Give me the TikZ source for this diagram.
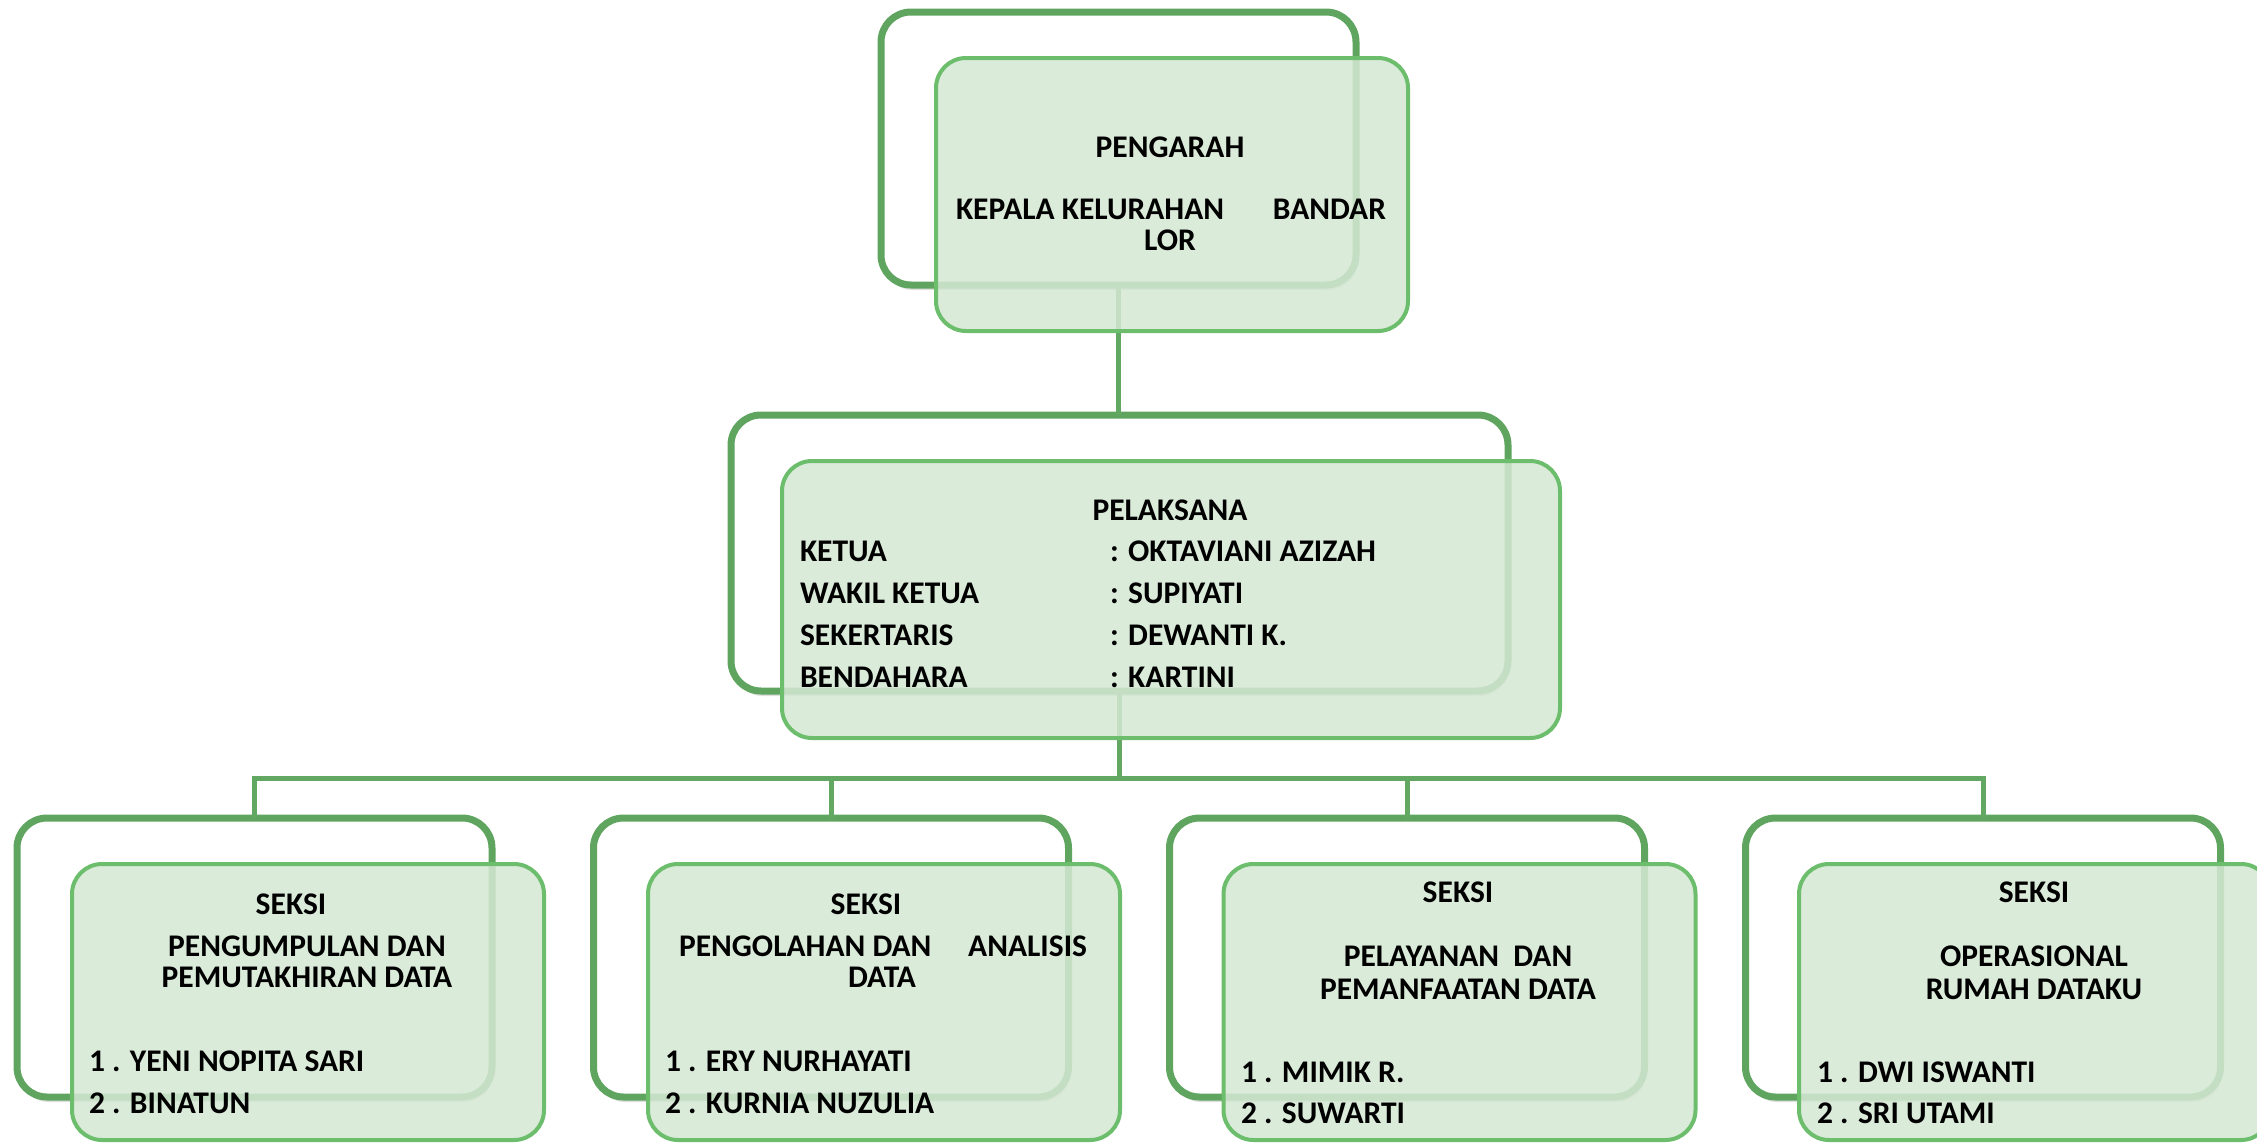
\documentclass[tikz,border=0pt]{standalone}
\usepackage{fontspec}
\setmainfont{Carlito}
\usetikzlibrary{shadows}
\definecolor{backline}{HTML}{5FA55F}
\definecolor{frontline}{HTML}{6CBE6C}
\definecolor{frontfill}{HTML}{D5E8D4}
\definecolor{connline}{HTML}{62A862}
\newcommand\lblfont{\fontsize{31.5}{36}\selectfont\bfseries}
\begin{document}
\begin{tikzpicture}[x=1pt,y=-1pt,
  backbox/.style={draw=backline, line width=7pt, fill=white, rounded corners=30pt,
    inner sep=0pt, outer sep=0pt,
    drop shadow={shadow xshift=2pt, shadow yshift=-5pt, opacity=0.25}},
  frontbox/.style={draw=frontline, line width=4pt, fill=frontfill, fill opacity=0.85,
    rounded corners=30pt, inner sep=0pt, outer sep=0pt},
  bw/.style={minimum width=475pt},
  fw/.style={minimum width=472pt},
  conn/.style={draw=connline, line width=5pt},
  lbl/.style={font=\lblfont, inner sep=0pt, outer sep=0pt, text=black},
  lc/.style={lbl, anchor=base},
  ll/.style={lbl, anchor=base west},
  lr/.style={lbl, anchor=base east}]
\clip (0,0) rectangle (2257,1143);
\fill[white] (0,0) rectangle (2257,1143);

% back boxes
\node[backbox, bw, minimum height=273pt] (b0) at (1118.5,148.5) {};
\node[backbox, minimum width=777pt, minimum height=276pt] (b1) at (1119.5,553) {};
\node[backbox, bw, minimum height=279pt] (b21) at (254.5,957.5) {};
\node[backbox, bw, minimum height=279pt] (b22) at (831,957.5) {};
\node[backbox, bw, minimum height=279pt] (b23) at (1407,957.5) {};
\node[backbox, bw, minimum height=279pt] (b24) at (1983,957.5) {};

% connectors
\draw[conn] (b0.south) -- (b0.south |- b1.north);
\draw[conn] (b1.south) -- ++(0,87) coordinate (bus);
\draw[conn] (b21.north) |- (bus) -| (b24.north);
\draw[conn] (b22.north) -- (b22.north |- bus);
\draw[conn] (b23.north) -- (b23.north |- bus);

% front boxes
\node[frontbox, fw, minimum height=273pt] (f0) at (1172,194.5) {};
\node[frontbox, minimum width=778pt, minimum height=277pt] (f1) at (1171,599.5) {};
\node[frontbox, fw, minimum height=276pt] (f21) at (308,1002) {};
\node[frontbox, fw, minimum height=276pt] (f22) at (884,1002) {};
\node[frontbox, fw, minimum height=276pt] (f23) at (1459.5,1002) {};
\node[frontbox, fw, minimum height=276pt] (f24) at (2035,1002) {};

% top texts
\node[lc] (t0a) at (1170,157) {PENGARAH};
\node[ll] (t0b) at (956,219) {KEPALA KELURAHAN};
\node[lr] (t0c) at (1386,219) {BANDAR};
\node[lc] (t0d) at (1170,250) {LOR};

% middle texts
\node[lc] (t1a) at (1170,520) {PELAKSANA};
\node[ll] (t1b) at (800,561) {KETUA};
\node[ll] (t1c) at (800,603) {WAKIL KETUA};
\node[ll] (t1d) at (800,645) {SEKERTARIS};
\node[ll] (t1e) at (800,687) {BENDAHARA};
\node[ll] (t1f) at (1110,561) {: OKTAVIANI AZIZAH};
\node[ll] (t1g) at (1110,603) {: SUPIYATI};
\node[ll] (t1h) at (1110,645) {: DEWANTI K.};
\node[ll] (t1i) at (1110,687) {: KARTINI};

% box 1
\node[lc] (s1a) at (291,914) {SEKSI};
\node[lc] (s1b) at (307,956) {PENGUMPULAN DAN};
\node[lc] (s1c) at (307,987) {PEMUTAKHIRAN DATA};
\node[ll] (s1d) at (89,1071) {1 . YENI NOPITA SARI};
\node[ll] (s1e) at (89,1113) {2 . BINATUN};

% box 2
\node[lc] (s2a) at (866,914) {SEKSI};
\node[ll] (s2b) at (679,956) {PENGOLAHAN DAN};
\node[lr] (s2c) at (1087,956) {ANALISIS};
\node[lc] (s2d) at (882,987) {DATA};
\node[ll] (s2e) at (665,1071) {1 . ERY NURHAYATI};
\node[ll] (s2f) at (665,1113) {2 . KURNIA NUZULIA};

% box 3
\node[lc] (s3a) at (1458,902) {SEKSI};
\node[lc] (s3b) at (1458,966) {PELAYANAN\ \ DAN};
\node[lc] (s3c) at (1458,999) {PEMANFAATAN DATA};
\node[ll] (s3d) at (1241,1082) {1 . MIMIK R.};
\node[ll] (s3e) at (1241,1123) {2 . SUWARTI};

% box 4
\node[lc] (s4a) at (2034,902) {SEKSI};
\node[lc] (s4b) at (2034,966) {OPERASIONAL};
\node[lc] (s4c) at (2034,999) {RUMAH DATAKU};
\node[ll] (s4d) at (1817,1082) {1 . DWI ISWANTI};
\node[ll] (s4e) at (1817,1123) {2 . SRI UTAMI};
\end{tikzpicture}
\end{document}
